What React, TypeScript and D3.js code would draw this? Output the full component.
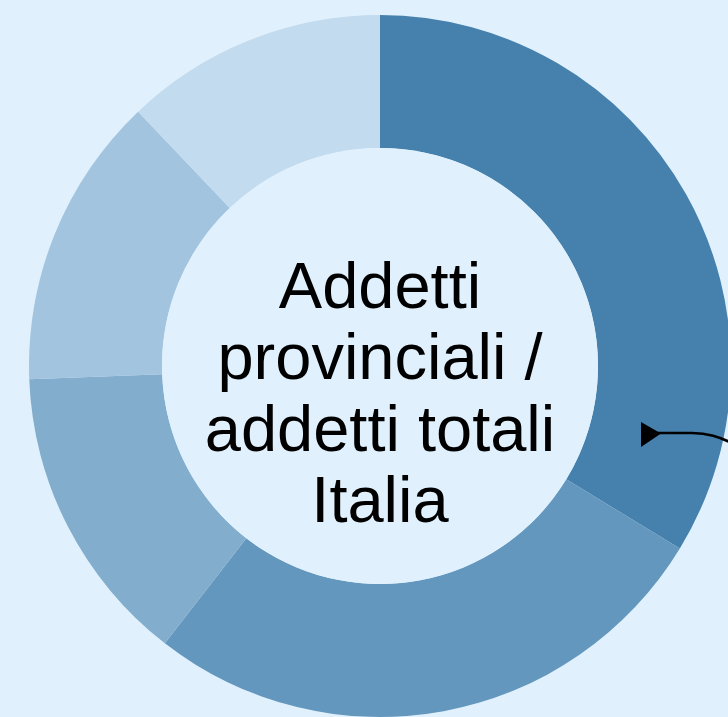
import React from "react";
import * as d3 from "d3";

const categories = ["Classe 1", "Classe 2", "Classe 3", "Classe 4", "Classe 5"];
const shares = [33.7, 26.8, 13.9, 13.5, 12.1];
const colors = ["#4681ad", "#6497bd", "#82adcd", "#a3c4de", "#c3dbee"];
const centerLines = ["Addetti", "provinciali /", "addetti totali", "Italia"];

const W = 728;
const H = 717;
const BG = "#e0f1fd";

export default function App() {
  const cx = 380;
  const cy = 366;
  const outerR = 351;
  const innerR = 218;

  const data = categories.map((c, i) => ({ c, v: shares[i], color: colors[i] }));
  const pie = d3
    .pie<any>()
    .sort(null)
    .value((d: any) => d.v)
    .startAngle(0)
    .endAngle(2 * Math.PI);
  const arcs = pie(data);
  const arc = d3.arc<any>().innerRadius(innerR).outerRadius(outerR);

  const lineY0 = 308;
  const lineStep = 71.3;

  const arrowPath = d3.path();
  arrowPath.moveTo(655, 433);
  arrowPath.lineTo(692, 433);
  arrowPath.bezierCurveTo(708, 433, 719, 437, 732, 443);
  arrowPath.lineTo(760, 456);

  return (
    <div style={{ position: "fixed", left: 0, top: 0, width: W, height: H, background: BG }}>
      <svg width={W} height={H} style={{ display: "block" }}>
        <rect x={0} y={0} width={W} height={H} fill={BG} />
        <g transform={`translate(${cx},${cy})`}>
          {arcs.map((a, i) => (
            <path key={i} d={arc(a) as string} fill={a.data.color} />
          ))}
          <circle r={innerR} fill={BG} />
          {centerLines.map((t, i) => (
            <text
              key={i}
              x={0}
              y={lineY0 - cy + i * lineStep}
              textAnchor="middle"
              fontFamily="'Liberation Sans', Arial, sans-serif"
              fontSize={65}
              fill="#000"
            >
              {t}
            </text>
          ))}
        </g>
        <path
          d={arrowPath.toString()}
          fill="none"
          stroke="#000"
          strokeWidth={2.7}
        />
        <path d="M641,422 L661,433.5 L641,447 Z" fill="#000" />
      </svg>
    </div>
  );
}
